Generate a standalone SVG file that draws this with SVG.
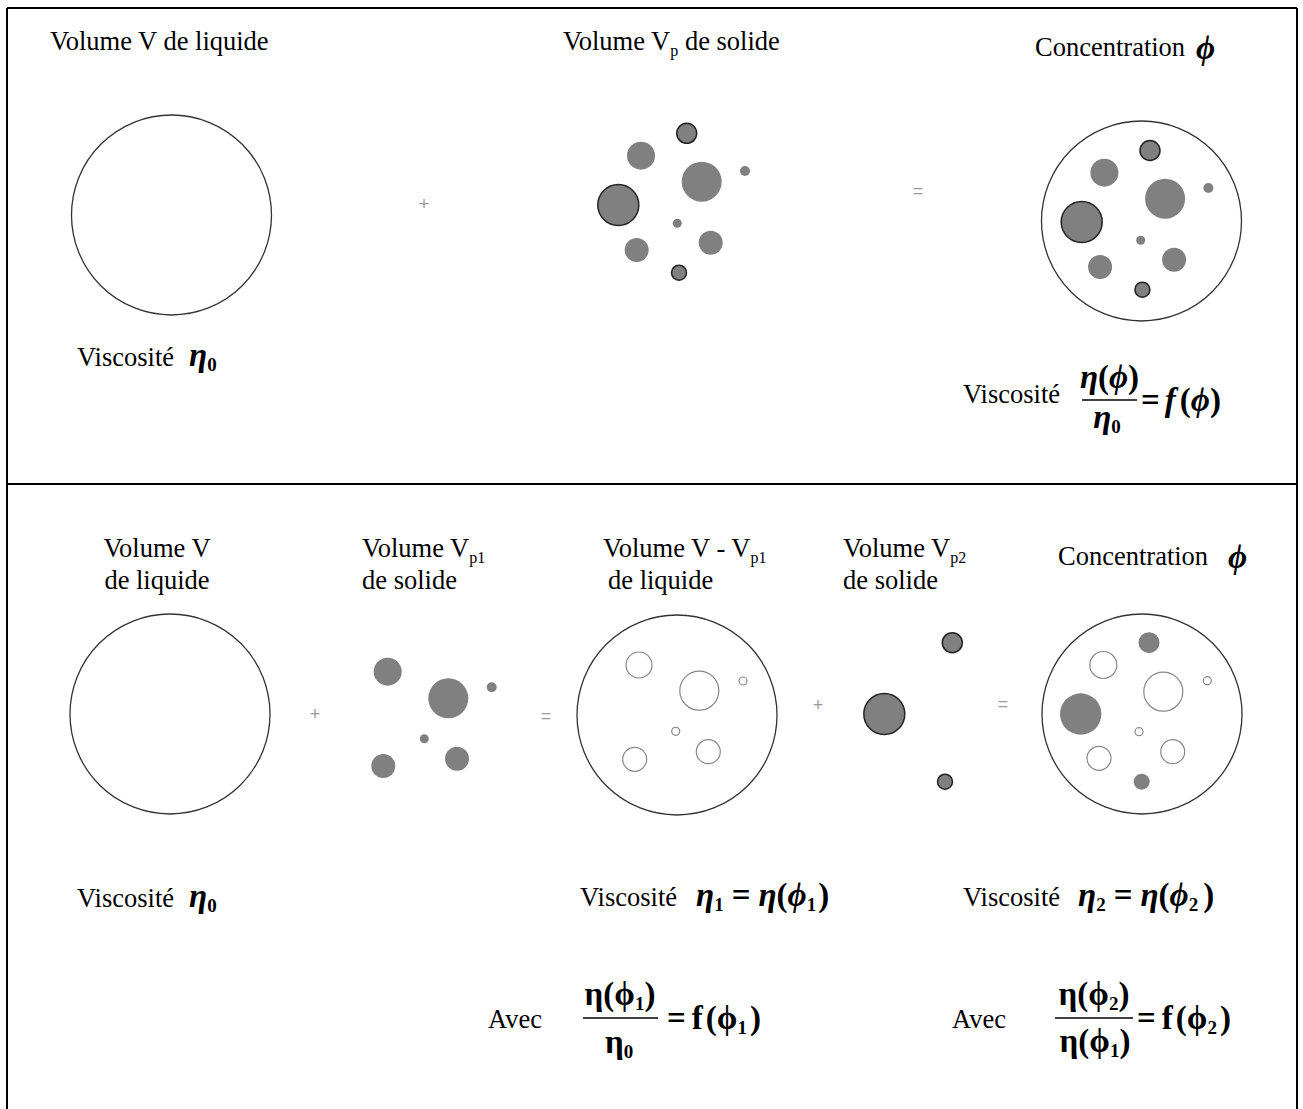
<svg xmlns="http://www.w3.org/2000/svg" width="1303" height="1109" viewBox="0 0 1303 1109">
<style>
.t{font-family:"Liberation Serif","DejaVu Serif",serif;font-size:26.5px;fill:#000}
.m{font-family:"Liberation Serif","DejaVu Serif",serif;font-weight:bold;font-style:italic;font-size:33px;fill:#000}
.mu{font-family:"Liberation Serif","DejaVu Serif",serif;font-weight:bold;font-style:normal;font-size:33px;fill:#000}
.sb{font-family:"Liberation Serif","DejaVu Serif",serif;font-weight:bold;font-style:normal;font-size:19px}
.sr{font-family:"Liberation Serif","DejaVu Serif",serif;font-size:16px}
.op{font-family:"Liberation Sans",sans-serif;font-size:18px;fill:#999;text-anchor:middle}
.outer{fill:#fff;stroke:#333;stroke-width:1.3}
.p{fill:#808080}
.pd{fill:#808080;stroke:#222;stroke-width:1.5}
.h{fill:none;stroke:#888;stroke-width:1.2}
.bar{stroke:#000;stroke-width:1.3}
.frame{stroke:#000;stroke-width:2;fill:none}
</style>
<g id="frame">
<line class="frame" x1="7" y1="8" x2="1297" y2="8"/>
<line class="frame" x1="7" y1="8" x2="7" y2="1109"/>
<line class="frame" x1="1297" y1="8" x2="1297" y2="1109"/>
<line class="frame" x1="7" y1="484" x2="1297" y2="484"/>
</g>

<g id="top-liquid">
<text class="t" x="50" y="50">Volume V de liquide</text>
<circle class="outer" cx="171.5" cy="215" r="100"/>
<text class="t" x="77" y="366">Viscosité</text>
<text class="m" x="189" y="366">η<tspan class="sb" dy="5">0</tspan></text>
</g>
<g id="top-plus"><text class="op" x="424" y="210">+</text></g>
<g id="top-solid">
<text class="t" x="563" y="50">Volume V<tspan class="sr" dy="6">p</tspan><tspan dy="-6"> de solide</tspan></text>
<circle class="pd" cx="686.7" cy="133.3" r="10"/>
<circle class="p" cx="641" cy="155.7" r="14"/>
<circle class="p" cx="701.7" cy="181.7" r="20"/>
<circle class="p" cx="745" cy="171" r="5"/>
<circle class="pd" cx="618.3" cy="205" r="20.5"/>
<circle class="p" cx="677.3" cy="223.3" r="4.5"/>
<circle class="p" cx="710.7" cy="242.7" r="12"/>
<circle class="p" cx="636.7" cy="250" r="12"/>
<circle class="pd" cx="679" cy="272.7" r="7.5"/>
</g>
<g id="top-equals"><text class="op" x="918" y="197">=</text></g>
<g id="top-suspension">
<text class="t" x="1035" y="56">Concentration</text>
<text class="m" x="1196" y="59" font-size="35">ϕ</text>
<circle class="outer" cx="1141.5" cy="221" r="100"/>
<circle class="pd" cx="1150" cy="150.5" r="10"/>
<circle class="p" cx="1104.4" cy="172.7" r="14"/>
<circle class="p" cx="1165.1" cy="198.7" r="20"/>
<circle class="p" cx="1208.4" cy="188" r="5"/>
<circle class="pd" cx="1081.7" cy="222" r="20.5"/>
<circle class="p" cx="1140.7" cy="240.3" r="4.5"/>
<circle class="p" cx="1174.1" cy="259.7" r="12"/>
<circle class="p" cx="1100.1" cy="267" r="12"/>
<circle class="pd" cx="1142.4" cy="289.7" r="7.5"/>
<text class="t" x="963" y="403">Viscosité</text>
<text class="m" x="1109.5" y="388" text-anchor="middle">η<tspan class="mu">(</tspan>ϕ<tspan class="mu">)</tspan></text>
<line class="bar" x1="1082" y1="400" x2="1137" y2="400"/>
<text class="m" x="1107" y="428" text-anchor="middle">η<tspan class="sb" dy="5">0</tspan></text>
<text class="mu" x="1141" y="411">=<tspan class="m" dx="5">f</tspan><tspan dx="4">(</tspan><tspan class="m">ϕ</tspan>)</text>
</g>

<g id="bottom-liquid">
<text class="t" x="157" y="557" text-anchor="middle">Volume V</text>
<text class="t" x="157" y="589" text-anchor="middle">de liquide</text>
<circle class="outer" cx="170" cy="714" r="100"/>
<text class="t" x="77" y="907">Viscosité</text>
<text class="m" x="189" y="907">η<tspan class="sb" dy="5">0</tspan></text>
</g>
<g id="bottom-plus1"><text class="op" x="315" y="720">+</text></g>
<g id="bottom-solid1">
<text class="t" x="362" y="557">Volume V<tspan class="sr" dy="6">p1</tspan></text>
<text class="t" x="362" y="589">de solide</text>
<circle class="p" cx="387.7" cy="671.7" r="14"/>
<circle class="p" cx="448.3" cy="698.3" r="20"/>
<circle class="p" cx="491.7" cy="687.3" r="5"/>
<circle class="p" cx="424.3" cy="738.7" r="4.5"/>
<circle class="p" cx="457" cy="758.7" r="12"/>
<circle class="p" cx="383.3" cy="766" r="12"/>
</g>
<g id="bottom-equals1"><text class="op" x="546" y="722">=</text></g>
<g id="bottom-mix1">
<text class="t" x="603" y="557">Volume V - V<tspan class="sr" dy="6">p1</tspan></text>
<text class="t" x="608" y="589">de liquide</text>
<circle class="outer" cx="677" cy="715" r="100"/>
<circle class="h" cx="639" cy="665" r="13"/>
<circle class="h" cx="699.3" cy="690.7" r="19.5"/>
<circle class="h" cx="743" cy="681" r="4"/>
<circle class="h" cx="675.7" cy="731.3" r="4"/>
<circle class="h" cx="708.3" cy="751.7" r="12"/>
<circle class="h" cx="634.7" cy="759.3" r="12"/>
<text class="t" x="580" y="906">Viscosité</text>
<text class="m" x="696" y="906">η<tspan class="sb" dy="5">1</tspan><tspan class="mu" dy="-5" dx="8">=</tspan><tspan dx="8">η</tspan><tspan class="mu">(</tspan>ϕ<tspan class="sb" dy="5">1</tspan><tspan class="mu" dy="-5" dx="2">)</tspan></text>
</g>
<g id="bottom-plus2"><text class="op" x="818" y="711">+</text></g>
<g id="bottom-solid2">
<text class="t" x="843" y="557">Volume V<tspan class="sr" dy="6">p2</tspan></text>
<text class="t" x="843" y="589">de solide</text>
<circle class="pd" cx="952.3" cy="642.7" r="10"/>
<circle class="pd" cx="884.3" cy="714" r="20.5"/>
<circle class="pd" cx="945" cy="781.7" r="7.5"/>
</g>
<g id="bottom-equals2"><text class="op" x="1003" y="710">=</text></g>
<g id="bottom-mix2">
<text class="t" x="1058" y="565">Concentration</text>
<text class="m" x="1228" y="568" font-size="33">ϕ</text>
<circle class="outer" cx="1142" cy="714" r="100"/>
<circle class="p" cx="1149" cy="642.7" r="10.5"/>
<circle class="h" cx="1103.3" cy="665" r="13.5"/>
<circle class="h" cx="1163.3" cy="691.7" r="19.5"/>
<circle class="h" cx="1207.3" cy="680.7" r="4"/>
<circle class="p" cx="1080.7" cy="714" r="20.7"/>
<circle class="h" cx="1139" cy="731.7" r="4"/>
<circle class="h" cx="1172.7" cy="751.7" r="12"/>
<circle class="h" cx="1099" cy="758.3" r="12"/>
<circle class="p" cx="1141.7" cy="781.7" r="8"/>
<text class="t" x="963" y="906">Viscosité</text>
<text class="m" x="1078" y="906">η<tspan class="sb" dy="5">2</tspan><tspan class="mu" dy="-5" dx="8">=</tspan><tspan dx="8">η</tspan><tspan class="mu">(</tspan>ϕ<tspan class="sb" dy="5">2</tspan><tspan class="mu" dy="-5" dx="5">)</tspan></text>
</g>

<g id="formula1">
<text class="t" x="488" y="1028">Avec</text>
<text class="mu" x="620" y="1005" text-anchor="middle">η(ϕ<tspan class="sb" dy="5">1</tspan><tspan dy="-5">)</tspan></text>
<line class="bar" x1="583" y1="1018" x2="658" y2="1018"/>
<text class="mu" x="619" y="1053" text-anchor="middle">η<tspan class="sb" dy="5">0</tspan></text>
<text class="mu" x="667" y="1029">=<tspan dx="6">f</tspan><tspan dx="3">(</tspan>ϕ<tspan class="sb" dy="5">1</tspan><tspan dy="-5" dx="3">)</tspan></text>
</g>
<g id="formula2">
<text class="t" x="952" y="1028">Avec</text>
<text class="mu" x="1094" y="1005" text-anchor="middle">η(ϕ<tspan class="sb" dy="5">2</tspan><tspan dy="-5">)</tspan></text>
<line class="bar" x1="1055" y1="1018" x2="1133" y2="1018"/>
<text class="mu" x="1095" y="1052" text-anchor="middle">η(ϕ<tspan class="sb" dy="5">1</tspan><tspan dy="-5">)</tspan></text>
<text class="mu" x="1137" y="1029">=<tspan dx="6">f</tspan><tspan dx="3">(</tspan>ϕ<tspan class="sb" dy="5">2</tspan><tspan dy="-5" dx="3">)</tspan></text>
</g>
</svg>
